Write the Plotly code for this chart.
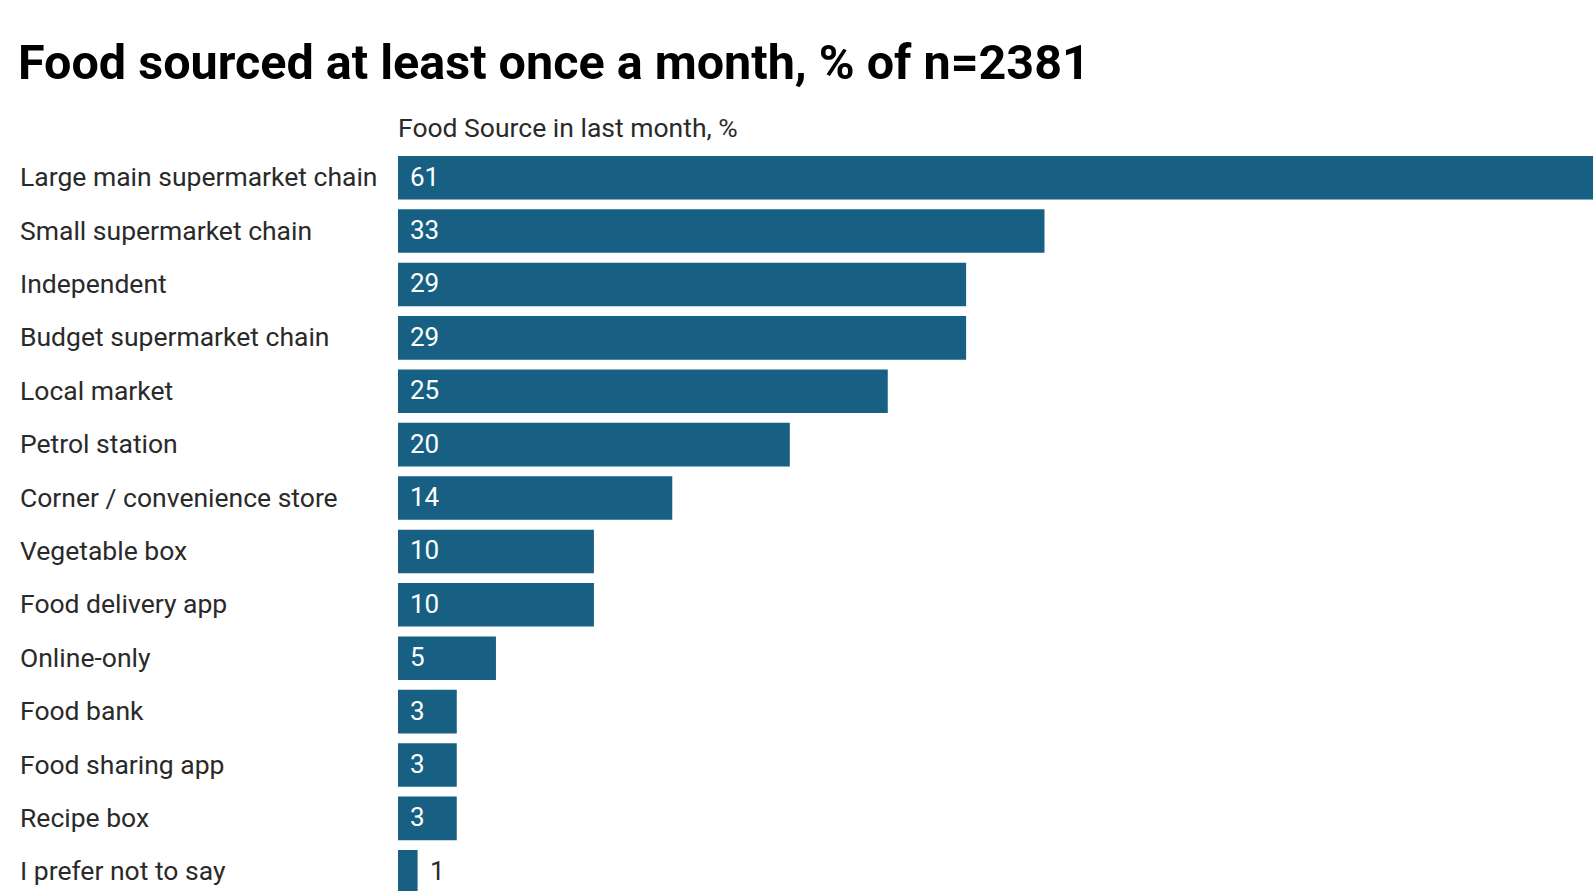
import plotly.graph_objects as go

# Share of respondents using each food source at least once in the last month
sources = [
    "Large main supermarket chain",
    "Small supermarket chain",
    "Independent",
    "Budget supermarket chain",
    "Local market",
    "Petrol station",
    "Corner / convenience store",
    "Vegetable box",
    "Food delivery app",
    "Online-only",
    "Food bank",
    "Food sharing app",
    "Recipe box",
    "I prefer not to say",
]
percent = [61, 33, 29, 29, 25, 20, 14, 10, 10, 5, 3, 3, 3, 1]

W, H = 1596, 891
ML, MR, MT, MB = 398, 2, 151, 0
BAR = "#176083"
FONT = "Roboto"
TEXT = "#2a2a2a"

fig = go.Figure(
    go.Bar(
        x=percent,
        y=sources,
        orientation="h",
        marker=dict(color=BAR, line=dict(width=0)),
        hoverinfo="x+y",
    )
)

annotations = []
plot_w = W - ML - MR
plot_h = H - MT - MB
for name, v in zip(sources, percent):
    # category label, left-aligned at the page edge
    annotations.append(dict(
        x=-(ML - 18) / plot_w, xref="paper", xanchor="left",
        y=name, yref="y", yanchor="middle", yshift=1,
        text=name, showarrow=False,
        font=dict(family=FONT, size=26.5, color=TEXT),
    ))
    # value label: inside the bar when there is room, otherwise just after it
    inside = v >= 3
    annotations.append(dict(
        x=0 if inside else v, xref="x", xanchor="left",
        xshift=10,
        y=name, yref="y", yanchor="middle", yshift=1,
        text=str(v), showarrow=False,
        font=dict(family=FONT, size=26, color="white" if inside else TEXT),
    ))

# axis header above the bars
annotations.append(dict(
    x=0, xref="paper", xanchor="left", xshift=-2,
    y=(H - MB - 127) / plot_h, yref="paper", yanchor="middle",
    text="Food Source in last month, %", showarrow=False,
    font=dict(family=FONT, size=26.5, color=TEXT),
))

fig.update_layout(
    width=W, height=H,
    margin=dict(l=ML, r=MR, t=MT, b=MB, pad=0),
    paper_bgcolor="white", plot_bgcolor="white",
    bargap=0.184,
    showlegend=False,
    title=dict(
        text="<b>Food sourced at least once a month, % of n=2381</b>",
        x=18 / W, xanchor="left", xref="container",
        y=1 - 62 / H, yanchor="middle", yref="container",
        font=dict(family=FONT, size=48.5, color="#000000"),
    ),
    xaxis=dict(range=[0, 61.05], visible=False, fixedrange=True),
    yaxis=dict(
        type="category", categoryorder="array", categoryarray=sources,
        range=[13.36, -0.5], showticklabels=False, showgrid=False,
        zeroline=False, showline=False, ticks="",
    ),
    annotations=annotations,
)

fig.write_html("out.html")
